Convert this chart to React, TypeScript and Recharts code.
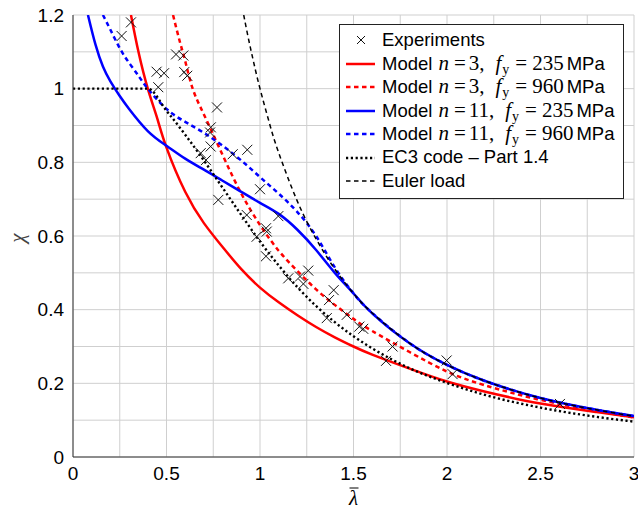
import React from "react";
import {
  ComposedChart,
  Line,
  Scatter,
  XAxis,
  YAxis,
  CartesianGrid,
  Legend,
  Label,
} from "recharts";

// slenderness / reduction factor pairs
const experiments: [number, number][] = [
  [0.26, 1.143], [0.31, 1.18], [0.447, 1.046], [0.487, 1.042], [0.456, 1.004],
  [0.551, 1.093], [0.59, 1.09], [0.595, 1.045], [0.611, 1.035], [0.77, 0.949],
  [0.737, 0.895], [0.733, 0.881], [0.736, 0.843], [0.683, 0.825], [0.711, 0.806],
  [0.854, 0.822], [0.932, 0.834], [0.777, 0.698], [1.0, 0.727], [0.929, 0.657],
  [1.098, 0.654], [1.032, 0.621], [1.036, 0.612], [0.982, 0.598], [1.032, 0.545],
  [1.151, 0.485], [1.214, 0.49], [1.258, 0.506], [1.232, 0.47], [1.394, 0.453],
  [1.369, 0.426], [1.464, 0.386], [1.357, 0.377], [1.531, 0.354], [1.552, 0.348],
  [1.709, 0.3], [1.674, 0.261], [1.998, 0.262], [2.03, 0.225], [2.604, 0.144],
];

const modelN3Fy235: [number, number][] = [
  [0.31, 1.2], [0.35, 1.1], [0.4, 1.0], [0.45, 0.92], [0.5, 0.84], [0.6, 0.72],
  [0.7, 0.635], [0.8, 0.57], [0.9, 0.51], [1.0, 0.46], [1.1, 0.42], [1.2, 0.385],
  [1.3, 0.353], [1.4, 0.325], [1.5, 0.3], [1.6, 0.278], [1.8, 0.24], [2.0, 0.205],
  [2.2, 0.178], [2.5, 0.145], [2.8, 0.122], [3.0, 0.108],
];

const modelN3Fy960: [number, number][] = [
  [0.535, 1.2], [0.57, 1.13], [0.6, 1.075], [0.64, 1.0], [0.7, 0.93], [0.8, 0.82],
  [0.9, 0.715], [1.0, 0.63], [1.1, 0.56], [1.2, 0.505], [1.3, 0.455], [1.4, 0.413],
  [1.5, 0.375], [1.6, 0.342], [1.8, 0.285], [2.0, 0.232], [2.2, 0.195], [2.5, 0.155],
  [2.8, 0.125], [3.0, 0.107],
];

const modelN11Fy235: [number, number][] = [
  [0.08, 1.2], [0.12, 1.12], [0.16, 1.06], [0.2, 1.02], [0.25, 0.98], [0.3, 0.945],
  [0.4, 0.885], [0.5, 0.845], [0.6, 0.81], [0.7, 0.78], [0.8, 0.75], [0.9, 0.72],
  [1.0, 0.69], [1.1, 0.66], [1.2, 0.617], [1.3, 0.562], [1.4, 0.5], [1.5, 0.444],
  [1.6, 0.39], [1.8, 0.309], [2.0, 0.25], [2.2, 0.207], [2.5, 0.16], [2.8, 0.128],
  [3.0, 0.111],
];

const modelN11Fy960: [number, number][] = [
  [0.16, 1.2], [0.2, 1.16], [0.25, 1.11], [0.3, 1.07], [0.35, 1.035], [0.4, 1.0],
  [0.5, 0.945], [0.6, 0.91], [0.7, 0.88], [0.8, 0.845], [0.9, 0.805], [1.0, 0.76],
  [1.1, 0.715], [1.2, 0.665], [1.3, 0.6], [1.4, 0.515], [1.5, 0.444], [1.6, 0.391],
  [1.8, 0.309], [2.0, 0.25], [2.2, 0.207], [2.5, 0.16], [2.8, 0.128], [3.0, 0.111],
];

const ec3Part14: [number, number][] = [
  [0, 1], [0.4, 1], [0.5, 0.94], [0.6, 0.875], [0.7, 0.805], [0.8, 0.731],
  [0.9, 0.657], [1.0, 0.585], [1.1, 0.52], [1.2, 0.461], [1.3, 0.41], [1.4, 0.366],
  [1.5, 0.328], [1.6, 0.295], [1.8, 0.241], [2.0, 0.201], [2.2, 0.169], [2.5, 0.134],
  [2.8, 0.109], [3.0, 0.096],
];

const eulerLoad: [number, number][] = [
  [0.913, 1.2], [0.93, 1.156], [0.95, 1.108], [0.97, 1.063], [1.0, 1.0], [1.05, 0.907],
  [1.1, 0.826], [1.2, 0.694], [1.3, 0.592], [1.4, 0.51], [1.5, 0.444], [1.6, 0.391],
  [1.8, 0.309], [2.0, 0.25], [2.2, 0.207], [2.5, 0.16], [2.8, 0.128], [3.0, 0.111],
];

const xTicks = [0, 0.25, 0.5, 0.75, 1, 1.25, 1.5, 1.75, 2, 2.25, 2.5, 2.75, 3];
const yTicks = [0, 0.1, 0.2, 0.3, 0.4, 0.5, 0.6, 0.7, 0.8, 0.9, 1, 1.1, 1.2];

const toPts = (arr: [number, number][]) => arr.map(([x, y]) => ({ x, y }));

const RED = "#ff0000";
const BLUE = "#0000ff";
const DASH = "4.5 3.5";
const DOTS = "2.2 2.6";
const EULER_DASH = "4.5 3.5";
const SANS = "'Liberation Sans', Arial, Helvetica, sans-serif";
const SERIF = "'Liberation Serif', 'Times New Roman', serif";

const Cross = (props: any) => {
  const { cx, cy } = props;
  if (cx == null || cy == null) return null;
  const s = 5;
  return (
    <g stroke="#111" strokeWidth={1}>
      <line x1={cx - s} y1={cy - s} x2={cx + s} y2={cy + s} />
      <line x1={cx - s} y1={cy + s} x2={cx + s} y2={cy - s} />
    </g>
  );
};

const mathI: React.CSSProperties = { fontFamily: SERIF, fontStyle: "italic", fontSize: 21, display: "inline-block" };
const mathR: React.CSSProperties = { fontFamily: SERIF, fontSize: 21, display: "inline-block" };

function ModelText({ n, fy }: { n: number; fy: number }) {
  return (
    <span style={{ display: "inline-flex", alignItems: "baseline" }}>
      <span>Model</span>
      <span style={{ ...mathI, marginLeft: 6 }}>n</span>
      <span style={{ ...mathR, marginLeft: 5 }}>=</span>
      <span style={{ ...mathR, marginLeft: 3 }}>{n},</span>
      <span style={{ ...mathI, marginLeft: 11 }}>f</span>
      <span style={{ ...mathR, fontSize: 14, position: "relative", top: 4, marginLeft: 1 }}>y</span>
      <span style={{ ...mathR, marginLeft: 6 }}>=</span>
      <span style={{ ...mathR, marginLeft: 5 }}>{fy}</span>
      <span style={{ marginLeft: 3 }}>MPa</span>
    </span>
  );
}

const legendRows = [
  { id: "exp", sample: "cross", color: "#000", dash: "", width: 0, text: <span>Experiments</span> },
  { id: "r1", sample: "line", color: RED, dash: "", width: 2.5, text: <ModelText n={3} fy={235} /> },
  { id: "r2", sample: "line", color: RED, dash: DASH, width: 2.5, text: <ModelText n={3} fy={960} /> },
  { id: "b1", sample: "line", color: BLUE, dash: "", width: 2.5, text: <ModelText n={11} fy={235} /> },
  { id: "b2", sample: "line", color: BLUE, dash: DASH, width: 2.5, text: <ModelText n={11} fy={960} /> },
  { id: "ec3", sample: "line", color: "#000", dash: DOTS, width: 2.4, text: <span>EC3 code – Part 1.4</span> },
  { id: "eul", sample: "line", color: "#000", dash: EULER_DASH, width: 1.5, text: <span>Euler load</span> },
];

function LegendBox() {
  return (
    <div
      style={{
        border: "1px solid #222",
        background: "#fff",
        padding: "3px 0 5px 0",
        fontFamily: SANS,
        fontSize: 18.5,
        color: "#000",
        boxSizing: "border-box",
        width: 285,
      }}
    >
      {legendRows.map((r) => (
        <div key={r.id} style={{ height: 23.5, display: "flex", alignItems: "center", whiteSpace: "nowrap" }}>
          <svg width={42} height={23.5} style={{ flex: "none" }}>
            {r.sample === "cross" ? (
              <g stroke="#111" strokeWidth={1}>
                <line x1={17} y1={8} x2={25} y2={16} />
                <line x1={17} y1={16} x2={25} y2={8} />
              </g>
            ) : (
              <line x1={6} y1={12} x2={35} y2={12} stroke={r.color} strokeWidth={r.width} strokeDasharray={r.dash || undefined} />
            )}
          </svg>
          {r.text}
        </div>
      ))}
    </div>
  );
}

const fmtX = (v: number) => (Math.round(v * 100) % 50 === 0 ? String(v) : "");
const fmtY = (v: number) => (Math.round(v * 100) % 20 === 0 ? String(v) : "");

const XLabel = (p: any) => {
  const vb = p.viewBox || {};
  const cx = vb.x + vb.width / 2;
  return (
    <g>
      <text
        x={cx}
        y={505}
        textAnchor="middle"
        style={{ fontFamily: SERIF, fontStyle: "italic", fontSize: 21 }}
        fill="#000"
      >
        λ
      </text>
      <line x1={cx - 4} y1={488} x2={cx + 5} y2={488} stroke="#000" strokeWidth={1} />
    </g>
  );
};

const YLabel = () => (
  <text
    x={17}
    y={238}
    textAnchor="middle"
    dominantBaseline="central"
    transform="rotate(-90 17 238)"
    style={{ fontFamily: SERIF, fontStyle: "italic", fontSize: 21 }}
    fill="#444"
  >
    χ
  </text>
);

export default function App() {
  const lineCommon = { dot: false, activeDot: false, isAnimationActive: false, dataKey: "y" } as const;
  return (
    <div style={{ position: "absolute", left: 0, top: 0, width: 638, height: 516, background: "#fff" }}>
      <ComposedChart width={638} height={516} margin={{ top: 15, right: 4, left: 0, bottom: 0 }}>
        <CartesianGrid stroke="#cfcfcf" strokeWidth={1} />
        <XAxis
          type="number"
          dataKey="x"
          domain={[0, 3]}
          ticks={xTicks}
          interval={0}
          tickFormatter={fmtX}
          allowDataOverflow
          height={59}
          tickSize={0}
          tickMargin={10}
          axisLine={{ stroke: "#333", strokeWidth: 1 }}
          tick={{ fill: "#000", fontSize: 19, fontFamily: SANS }}
        >
          <Label content={XLabel} />
        </XAxis>
        <YAxis
          type="number"
          dataKey="y"
          domain={[0, 1.2]}
          ticks={yTicks}
          interval={0}
          tickFormatter={fmtY}
          allowDataOverflow
          width={73}
          tickSize={0}
          tickMargin={9}
          axisLine={{ stroke: "#333", strokeWidth: 1 }}
          tick={{ fill: "#000", fontSize: 19, fontFamily: SANS }}
        >
          <Label content={YLabel} />
        </YAxis>
        <Scatter data={toPts(experiments)} dataKey="y" shape={<Cross />} isAnimationActive={false} />
        <Line {...lineCommon} data={toPts(modelN3Fy235)} type="natural" stroke={RED} strokeWidth={2.5} />
        <Line {...lineCommon} data={toPts(modelN3Fy960)} type="natural" stroke={RED} strokeWidth={2.5} strokeDasharray={DASH} />
        <Line {...lineCommon} data={toPts(modelN11Fy235)} type="natural" stroke={BLUE} strokeWidth={2.5} />
        <Line {...lineCommon} data={toPts(modelN11Fy960)} type="natural" stroke={BLUE} strokeWidth={2.5} strokeDasharray={DASH} />
        <Line {...lineCommon} data={toPts(ec3Part14)} type="monotone" stroke="#000" strokeWidth={2.4} strokeDasharray={DOTS} />
        <Line {...lineCommon} data={toPts(eulerLoad)} type="natural" stroke="#000" strokeWidth={1.5} strokeDasharray={EULER_DASH} />
        <Legend
          layout="horizontal"
          verticalAlign="middle"
          align="center"
          content={() => <LegendBox />}
          wrapperStyle={{ left: 339, top: 24, width: 285, height: "auto" }}
        />
      </ComposedChart>
    </div>
  );
}
